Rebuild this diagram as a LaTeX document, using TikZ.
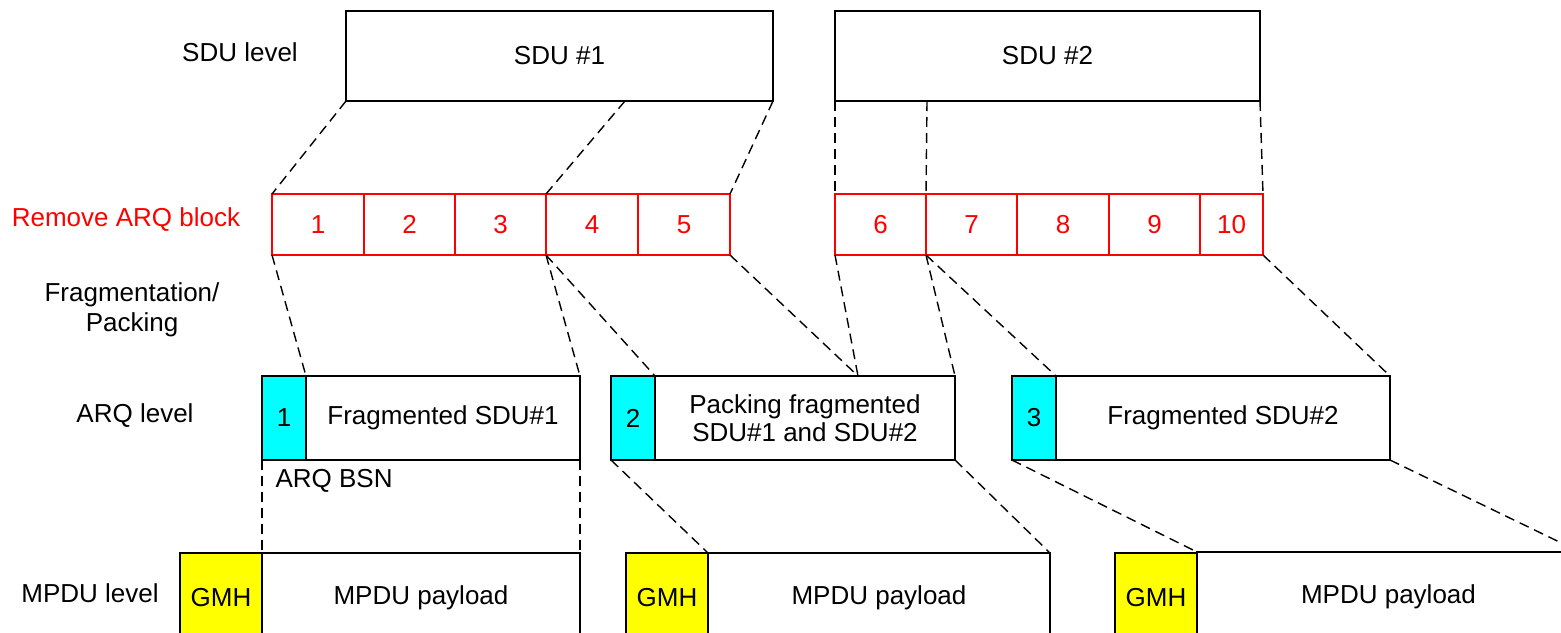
\documentclass[tikz,border=0pt]{standalone}
\usepackage{fontspec}
\setmainfont{Liberation Sans}
\usetikzlibrary{calc}
\definecolor{arqcyan}{RGB}{0,255,255}
\definecolor{gmhyellow}{RGB}{255,255,0}
\definecolor{blkred}{RGB}{255,0,0}
\tikzset{
  every node/.style={font=\fontsize{26}{30}\selectfont},
  box/.style={draw=black, line width=1.4pt, fill=white, inner sep=0pt, outer sep=0pt, anchor=north west, align=center},
  cell/.style={draw=blkred, line width=1.4pt, text=blkred, inner sep=0pt, outer sep=0pt, anchor=north west, minimum height=61pt},
  bsn/.style={box, fill=arqcyan, minimum width=44pt, minimum height=84pt},
  gmh/.style={box, fill=gmhyellow, minimum width=82pt, minimum height=90pt},
  lvl/.style={align=center},
  map/.style={draw=black, line width=1.4pt, dash pattern=on 10pt off 6pt},
}
\begin{document}
\begin{tikzpicture}[x=1pt, y=-1pt]
\useasboundingbox (0,0) rectangle (1561,632);
\clip (0,0) rectangle (1561,632);

% level labels
\node[lvl] (lsdu) at (240,52) {SDU level};
\node[lvl, text=blkred] (lrem) at (126,220) {Remove ARQ block};
\node[lvl] (lfrag) at (132,310) {Fragmentation/\\Packing};
\node[lvl] (larq) at (135,416) {ARQ level};
\node[lvl] (lmpdu) at (90,593) {MPDU level};

% SDUs
\node[box, minimum width=427pt, minimum height=90pt] (sdu1) at (346,11) {SDU \#1};
\node[box, minimum width=425pt, minimum height=90pt] (sdu2) at (835,11) {SDU \#2};
\coordinate (s1cut) at (625,101);
\coordinate (s2cut) at (927,101);

% ARQ blocks
\node[cell, minimum width=92pt] (b1) at (272,194) {1};
\node[cell, minimum width=91pt] (b2) at (364,194) {2};
\node[cell, minimum width=91pt] (b3) at (455,194) {3};
\node[cell, minimum width=92pt] (b4) at (546,194) {4};
\node[cell, minimum width=92pt] (b5) at (638,194) {5};
\node[cell, minimum width=91pt] (b6) at (835,194) {6};
\node[cell, minimum width=91pt] (b7) at (926,194) {7};
\node[cell, minimum width=92pt] (b8) at (1017,194) {8};
\node[cell, minimum width=91pt] (b9) at (1109,194) {9};
\node[cell, minimum width=63pt] (b10) at (1200,194) {10};

% ARQ level
\node[bsn] (q1) at (262,376) {1};
\node[box, minimum width=274pt, minimum height=84pt] (f1) at (306,376) {Fragmented SDU\#1};
\node[bsn] (q2) at (611,376) {2};
\node[box, minimum width=300pt, minimum height=84pt] (f2) at (655,376) {Packing fragmented\\[-2pt]SDU\#1 and SDU\#2};
\node[bsn] (q3) at (1012,376) {3};
\node[box, minimum width=334pt, minimum height=84pt] (f3) at (1056,376) {Fragmented SDU\#2};
\coordinate (f2cut) at (858,376);
\node[anchor=west] (bsnlbl) at (272,481) {ARQ BSN};

% MPDU level
\node[gmh] (g1) at (180,553) {GMH};
\node[box, minimum width=318pt, minimum height=90pt] (p1) at (262,553) {MPDU payload};
\node[gmh] (g2) at (626,553) {GMH};
\node[box, minimum width=342pt, minimum height=90pt] (p2) at (708,553) {MPDU payload};
\node[box, minimum width=383pt, minimum height=90pt] (p3) at (1197,552) {MPDU payload};
\node[gmh] (g3) at (1115,553) {GMH};

% SDU -> ARQ blocks
\draw[map] (sdu1.south west) -- (b1.north west);
\draw[map] (s1cut) -- (b4.north west);
\draw[map] (sdu1.south east) -- (b5.north east);
\draw[map] (sdu2.south west) -- (b6.north west);
\draw[map] (s2cut) -- (b7.north west);
\draw[map] (sdu2.south east) -- (b10.north east);

% ARQ blocks -> ARQ level
\draw[map] (b1.south west) -- (f1.north west);
\draw[map] (b4.south west) -- (f1.north east);
\draw[map] (b4.south west) -- (f2.north west);
\draw[map] (b5.south east) -- (f2cut);
\draw[map] (b6.south west) -- (f2cut);
\draw[map] (b7.south west) -- (f2.north east);
\draw[map] (b7.south west) -- (f3.north west);
\draw[map] (b10.south east) -- (f3.north east);

% ARQ level -> MPDU level
\draw[map] (q1.south west) -- (p1.north west);
\draw[map] (f1.south east) -- (p1.north east);
\draw[map] (q2.south west) -- (p2.north west);
\draw[map] (f2.south east) -- (p2.north east);
\draw[map] (q3.south west) -- (p3.north west);
\draw[map] (f3.south east) -- (p3.north east);
\end{tikzpicture}
\end{document}
